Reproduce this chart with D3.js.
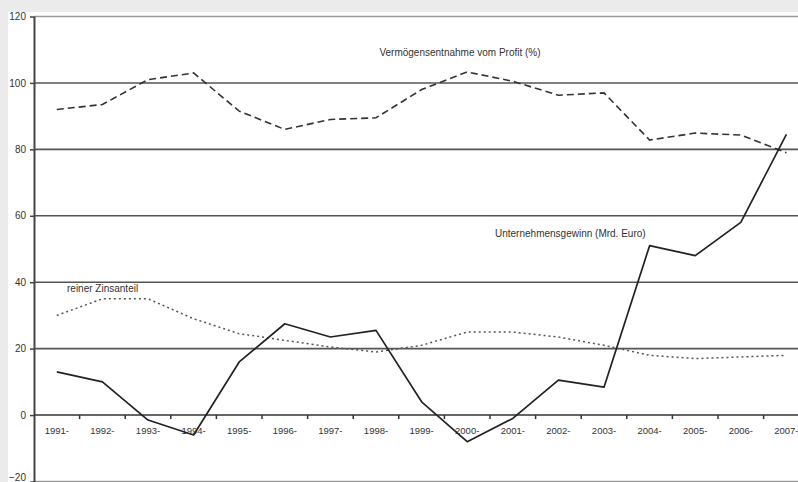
<!DOCTYPE html>
<html><head><meta charset="utf-8">
<script src="https://cdn.jsdelivr.net/npm/d3@7"></script>
<style>
html,body{margin:0;padding:0;background:#ebebeb;overflow:hidden;}
svg{display:block;font-family:"Liberation Sans",Arial,sans-serif;}
</style></head>
<body>
<svg id="chart" width="798" height="482"></svg>
<script>
const categories = ["1991-","1992-","1993-","1994-","1995-","1996-","1997-","1998-","1999-","2000-","2001-","2002-","2003-","2004-","2005-","2006-","2007-"];
const gewinn = [13,10,-1.5,-6,16,27.5,23.5,25.5,4,-8,-1,10.5,8.4,51,48,58,84.5];
const entnahme = [92,93.5,101,103,91.5,86,89,89.5,98,103.3,100.5,96.3,97,82.8,84.9,84.3,79];
const zins = [30,35,35,29,24.5,22.5,20.5,19,21,25,25,23.5,21,18,17,17.5,18];
const yTicks = [-20,0,20,40,60,80,100,120];
const labels = {entnahme:"Vermögensentnahme vom Profit (%)", gewinn:"Unternehmensgewinn (Mrd. Euro)", zins:"reiner Zinsanteil"};

const svg = d3.select("#chart");
svg.append("rect").attr("x",0).attr("y",0).attr("width",798).attr("height",482).attr("fill","#ebebeb");
svg.append("rect").attr("x",8).attr("y",12).attr("width",800).attr("height",480).attr("fill","#fff");

const x = d3.scaleBand().domain(categories).range([34, 34+17*45.6]);
const y = d3.scaleLinear().domain([-20,120]).range([481.5,16.5]);
const cx = d => x(d) + x.bandwidth()/2;

// gridlines
svg.append("g").selectAll("line").data(yTicks.filter(v=>v!==0)).join("line")
  .attr("x1",34).attr("x2",800).attr("y1",d=>y(d)).attr("y2",d=>y(d))
  .attr("stroke",d=>d===120||d===-20?"#999":"#555").attr("stroke-width",1.6);

// y axis
const yAxis = d3.axisLeft(y).tickValues(yTicks).tickSize(4).tickFormat(d3.format("d"));
const gy = svg.append("g").attr("transform","translate(34,0)").call(yAxis);
gy.select(".domain").remove();
gy.selectAll(".tick line").attr("stroke","#444").attr("stroke-width",1.5);
gy.selectAll(".tick text").attr("font-size","10px").attr("fill","#333").attr("x",-8).attr("font-family","Liberation Sans, Arial, sans-serif")
  .attr("dy",d=>d===-20?"-0.1em":"0.32em");
svg.append("line").attr("x1",34.5).attr("x2",34.5).attr("y1",y(120)).attr("y2",482).attr("stroke","#444").attr("stroke-width",2);

// x axis at zero
const gx = svg.append("g").attr("transform",`translate(0,${y(0)})`);
gx.append("line").attr("x1",34).attr("x2",800).attr("y1",0).attr("y2",0).attr("stroke","#333").attr("stroke-width",1.6);
const bounds = categories.map(c=>x(c)).slice(1);
gx.selectAll("line.tk").data(bounds).join("line").attr("class","tk")
  .attr("x1",d=>d).attr("x2",d=>d).attr("y1",0).attr("y2",4).attr("stroke","#333").attr("stroke-width",1.5);
gx.selectAll("text").data(categories).join("text")
  .attr("x",d=>cx(d)).attr("y",19).attr("text-anchor","middle")
  .attr("font-size","9.5px").attr("fill","#333").text(d=>d);

const line = d3.line().x((d,i)=>cx(categories[i])).y(d=>y(d));

svg.append("path").datum(entnahme).attr("d",line).attr("fill","none")
  .attr("stroke","#333").attr("stroke-width",1.6).attr("stroke-dasharray","7,4");
svg.append("path").datum(zins).attr("d",line).attr("fill","none")
  .attr("stroke","#555").attr("stroke-width",1.5).attr("stroke-dasharray","2,3");
svg.append("path").datum(gewinn).attr("d",line).attr("fill","none")
  .attr("stroke","#222").attr("stroke-width",1.7).attr("stroke-linejoin","round");

const lab = (t,xx,yy,anchor)=>svg.append("text").attr("x",xx).attr("y",yy).attr("text-anchor",anchor)
  .attr("font-size","10px").attr("fill","#333").text(t);
lab(labels.entnahme, 460, 56, "middle");
lab(labels.gewinn, 495, 237, "start");
lab(labels.zins, 67, 292, "start");
</script>
</body></html>
